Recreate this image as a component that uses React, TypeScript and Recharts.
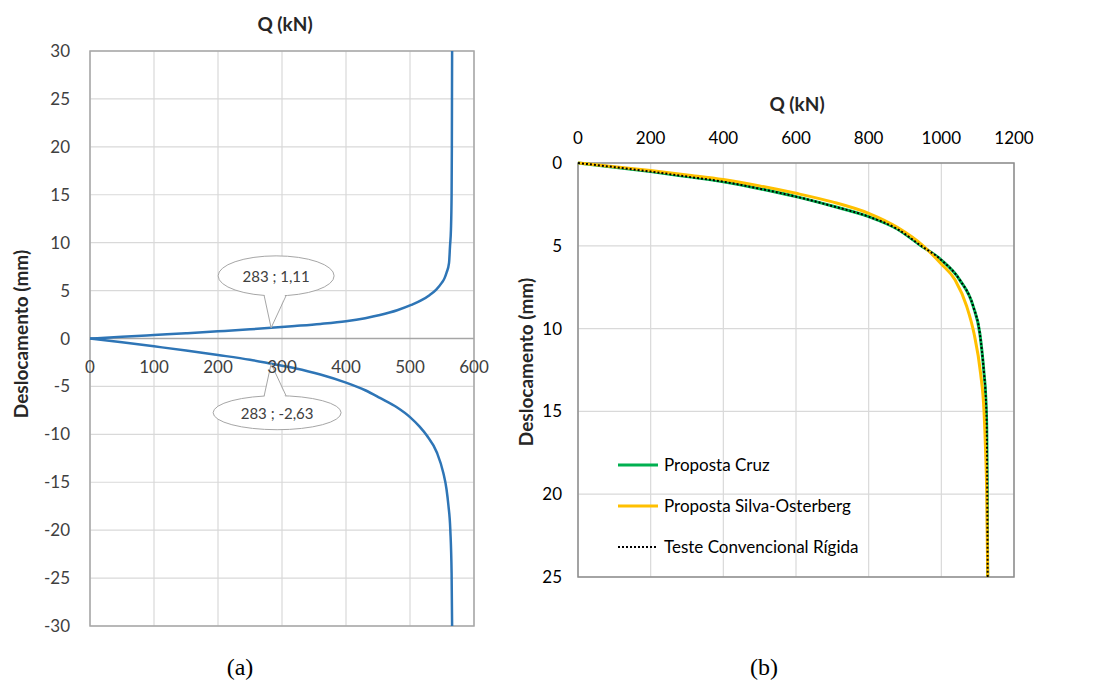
import React from "react";
import {
  LineChart,
  Line,
  XAxis,
  YAxis,
  CartesianGrid,
  ReferenceArea,
  ReferenceLine,
  ReferenceDot,
} from "recharts";

// (a) load-displacement, upper and lower branches
const upperQ = [0, 50, 100, 150, 200, 250, 283, 320, 360, 400, 430, 453, 480, 502, 518, 531, 541, 549.5, 554, 557, 561, 562.5, 564, 565, 565.4, 565.6, 565.8];
const upperD = [0, 0.17, 0.36, 0.55, 0.75, 0.96, 1.11, 1.3, 1.52, 1.8, 2.12, 2.45, 2.95, 3.5, 4.0, 4.55, 5.1, 5.8, 6.3, 6.85, 7.9, 9.6, 11.4, 15, 20, 25, 30];
const lowerQ = [0, 50, 100, 150, 200, 250, 283, 320, 360, 400, 430, 453, 480, 500, 515, 526, 542, 552, 557, 560, 563, 565, 565.8];
const lowerD = [0, -0.4, -0.82, -1.25, -1.72, -2.22, -2.63, -3.1, -3.75, -4.6, -5.4, -6.2, -7.2, -8.2, -9.2, -10.1, -11.9, -14, -15.7, -17.4, -20, -24.5, -30];
const qTicksA = [0, 100, 200, 300, 400, 500, 600];
const dTicksA = [-30, -25, -20, -15, -10, -5, 0, 5, 10, 15, 20, 25, 30];

// (b) three curves
const cruzQ = [0, 100, 200, 300, 400, 500, 600, 700, 800, 880, 941, 1000, 1051, 1088, 1106, 1117.5, 1122, 1125, 1126.5, 1127.6];
const cruzD = [0, 0.25, 0.52, 0.82, 1.13, 1.55, 2.03, 2.6, 3.24, 4.0, 4.95, 5.86, 7.07, 8.67, 10.3, 12.7, 14, 16, 20, 25];
const silvaQ = [0, 100, 200, 300, 400, 500, 600, 700, 800, 880, 950, 1000, 1038, 1070, 1090, 1108, 1117.5, 1122, 1125, 1127.6];
const silvaD = [0, 0.22, 0.45, 0.72, 1.0, 1.38, 1.83, 2.35, 3.04, 3.9, 5.0, 6.1, 7.07, 8.67, 10.3, 12.7, 15, 17.5, 20, 25];
const testeQ = [0, 100, 200, 300, 400, 500, 600, 700, 800, 880, 941, 1000, 1051, 1088, 1106, 1117.5, 1122, 1125, 1126.5, 1127.6];
const testeD = [0, 0.25, 0.52, 0.82, 1.13, 1.55, 2.03, 2.6, 3.24, 4.0, 4.95, 5.86, 7.07, 8.67, 10.3, 12.7, 14, 16, 20, 25];
const qTicksB = [0, 200, 400, 600, 800, 1000, 1200];
const dTicksB = [0, 5, 10, 15, 20, 25];

const toPts = (q: number[], d: number[]) => q.map((v, i) => ({ q: v, d: d[i] }));

const FONT = "Lato, 'Open Sans', sans-serif";
const PLOT_H_A = 575;

function Balloon({ cx, cy, ex, ey, rx, ry, b1, b2, text, below }: any) {
  const ecx = cx + ex;
  const ecy = cy + ey;
  const yAt = (off: number) => ry * Math.sqrt(1 - (off / rx) * (off / rx));
  const by1 = below ? ecy - yAt(b1) : ecy + yAt(b1);
  const by2 = below ? ecy - yAt(b2) : ecy + yAt(b2);
  const inset = below ? 3 : -3;
  return (
    <g>
      <ellipse cx={ecx} cy={ecy} rx={rx} ry={ry} fill="#fff" stroke="#a6a6a6" strokeWidth={1} />
      <polygon
        points={`${cx},${cy} ${ecx + b1},${by1 + inset} ${ecx + b2},${by2 + inset}`}
        fill="#fff"
        stroke="none"
      />
      <line x1={cx} y1={cy} x2={ecx + b1} y2={by1} stroke="#a6a6a6" />
      <line x1={cx} y1={cy} x2={ecx + b2} y2={by2} stroke="#a6a6a6" />
      <text x={ecx} y={ecy} textAnchor="middle" dominantBaseline="central" fontSize={15} fill="#404040" fontFamily={FONT}>
        {text}
      </text>
    </g>
  );
}

const seriesB = [
  { name: "Proposta Cruz", data: toPts(cruzQ, cruzD), color: "#00b050", width: 3, dash: undefined },
  { name: "Proposta Silva-Osterberg", data: toPts(silvaQ, silvaD), color: "#ffc000", width: 3, dash: undefined },
  { name: "Teste Convencional Rígida", data: toPts(testeQ, testeD), color: "#000000", width: 2, dash: "2 2" },
];

function LegendB() {
  return (
    <div style={{ fontFamily: FONT, fontSize: 17, color: "#000" }}>
      {seriesB.map((s) => (
        <div key={s.name} style={{ display: "flex", alignItems: "center", height: 41 }}>
          <svg width={42} height={6} style={{ marginRight: 4 }}>
            <line x1={0} y1={3} x2={40} y2={3} stroke={s.color} strokeWidth={s.dash ? 2 : 3} strokeDasharray={s.dash} />
          </svg>
          <span>{s.name}</span>
        </div>
      ))}
    </div>
  );
}

const titleStyle: React.CSSProperties = {
  position: "absolute",
  fontFamily: FONT,
  fontWeight: 700,
  fontSize: 19,
  color: "#262626",
  whiteSpace: "nowrap",
  transform: "translate(-50%, -50%)",
};

export default function App() {
  const upper = toPts(upperQ, upperD);
  const lower = toPts(lowerQ, lowerD);

  return (
    <div style={{ position: "absolute", left: 0, top: 0, width: 1119, height: 681, background: "#fff", overflow: "hidden" }}>
      {/* chart (a) */}
      <div style={{ position: "absolute", left: 0, top: 0 }}>
        <LineChart width={500} height={681} margin={{ top: 51, right: 26, bottom: 25, left: 0 }}>
          <CartesianGrid stroke="#d9d9d9" strokeWidth={1.2} />
          <XAxis
            type="number"
            dataKey="q"
            domain={[0, 600]}
            ticks={qTicksA}
            interval={0}
            height={30}
            axisLine={false}
            tickLine={false}
            tickSize={0}
            tickMargin={0}
            tick={(p: any) => (
              <text
                x={p.x}
                y={p.y - PLOT_H_A / 2 + 34}
                textAnchor="middle"
                fontSize={17}
                fill="#404040"
                fontFamily={FONT}
              >
                {p.payload.value}
              </text>
            )}
          />
          <YAxis
            type="number"
            dataKey="d"
            domain={[-30, 30]}
            ticks={dTicksA}
            interval={0}
            width={90}
            axisLine={false}
            tickLine={false}
            tickSize={0}
            tickMargin={20}
            tick={{ fontSize: 17, fill: "#404040", fontFamily: FONT }}
          />
          <ReferenceArea x1={0} x2={600} y1={-30} y2={30} fill="none" stroke="#a6a6a6" strokeWidth={1.5} />
          <ReferenceLine y={0} stroke="#a6a6a6" strokeWidth={1.5} />
          <Line data={upper} dataKey="d" type="monotone" stroke="#2e75b6" strokeWidth={2.5} dot={false} isAnimationActive={false} />
          <Line data={lower} dataKey="d" type="monotone" stroke="#2e75b6" strokeWidth={2.5} dot={false} isAnimationActive={false} />
          <ReferenceDot
            x={283}
            y={1.11}
            r={0}
            shape={(p: any) => (
              <Balloon cx={p.cx} cy={p.cy} ex={5} ey={-52} rx={58} ry={20} b1={-12} b2={10} text="283 ; 1,11" />
            )}
          />
          <ReferenceDot
            x={283}
            y={-2.63}
            r={0}
            shape={(p: any) => (
              <Balloon cx={p.cx} cy={p.cy} ex={6} ey={49} rx={64} ry={17} b1={-13} b2={9} text="283 ; -2,63" below />
            )}
          />
        </LineChart>
      </div>
      <div style={{ ...titleStyle, left: 285, top: 23 }}>Q (kN)</div>
      <div style={{ ...titleStyle, left: 20, top: 334, transform: "translate(-50%, -50%) rotate(-90deg)" }}>
        Deslocamento (mm)
      </div>
      <div style={{ position: "absolute", left: 240, top: 667, transform: "translate(-50%, -50%)", fontFamily: "'Liberation Serif', serif", fontSize: 24 }}>
        (a)
      </div>

      {/* chart (b) */}
      <div style={{ position: "absolute", left: 500, top: 0 }}>
        <LineChart width={619} height={681} margin={{ top: 123, right: 105, bottom: 104, left: 0 }}>
          <CartesianGrid stroke="#d9d9d9" strokeWidth={1.2} />
          <XAxis
            type="number"
            dataKey="q"
            orientation="top"
            domain={[0, 1200]}
            ticks={qTicksB}
            interval={0}
            height={40}
            axisLine={false}
            tickLine={false}
            tickSize={0}
            tickMargin={19}
            tick={{ fontSize: 17, fill: "#000", fontFamily: FONT }}
          />
          <YAxis
            type="number"
            dataKey="d"
            reversed
            domain={[0, 25]}
            ticks={dTicksB}
            interval={0}
            width={78}
            axisLine={false}
            tickLine={false}
            tickSize={0}
            tickMargin={16}
            tick={{ fontSize: 17, fill: "#000", fontFamily: FONT }}
          />
          <ReferenceArea x1={0} x2={1200} y1={0} y2={25} fill="none" stroke="#8c8c8c" strokeWidth={1.5} />
          {seriesB.map((s) => (
            <Line
              key={s.name}
              name={s.name}
              data={s.data}
              dataKey="d"
              type="monotone"
              stroke={s.color}
              strokeWidth={s.width}
              strokeDasharray={s.dash}
              dot={false}
              isAnimationActive={false}
            />
          ))}
        </LineChart>
      </div>
      <div style={{ position: "absolute", left: 618, top: 444 }}>
        <LegendB />
      </div>
      <div style={{ ...titleStyle, left: 797, top: 103 }}>Q (kN)</div>
      <div style={{ ...titleStyle, left: 525, top: 362, transform: "translate(-50%, -50%) rotate(-90deg)" }}>
        Deslocamento (mm)
      </div>
      <div style={{ position: "absolute", left: 764, top: 667, transform: "translate(-50%, -50%)", fontFamily: "'Liberation Serif', serif", fontSize: 24 }}>
        (b)
      </div>
    </div>
  );
}
